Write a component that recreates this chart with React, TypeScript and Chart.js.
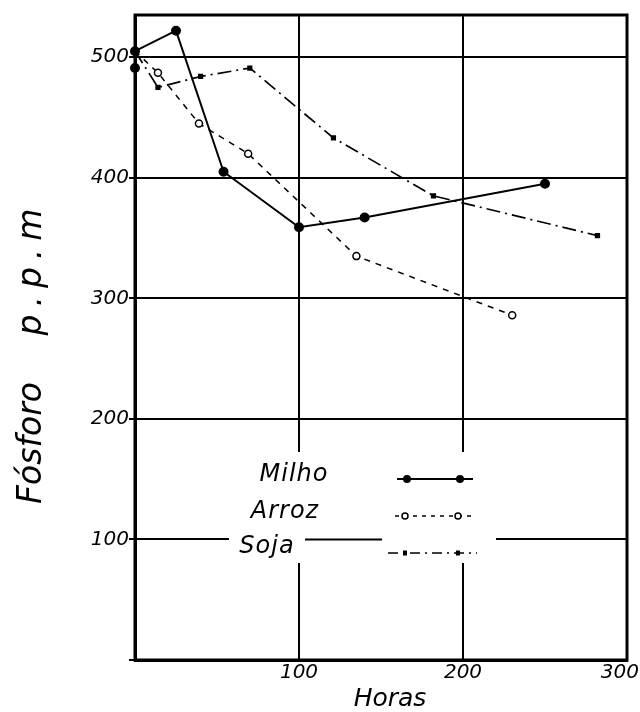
import React, { useEffect, useRef } from "react";
import { Chart, registerables } from "chart.js";

Chart.register(...registerables);

const seriesNames = ["Milho", "Arroz", "Soja"];
const milhoX = [0, 0, 25, 54, 100, 140, 250];
const milhoY = [491, 505, 522, 405, 359, 367, 395];
const arrozX = [0, 14, 39, 69, 135, 230];
const arrozY = [505, 487, 445, 420, 335, 286];
const sojaX = [0, 14, 40, 70, 121, 182, 282];
const sojaY = [505, 475, 484, 491, 433, 385, 352];
const xTicks = [0, 100, 200, 300];
const yTicks = [0, 100, 200, 300, 400, 500];
const xTitle = "Horas";
const yTitleWord = "Fósforo";
const yTitleUnit = "p.p.m";

const FAMILY = "'DejaVu Sans', sans-serif";

const toPoints = (xs: number[], ys: number[]) => xs.map((x, i) => ({ x, y: ys[i] }));

const decorPlugin = {
  id: "decor",
  afterDraw(chart: any) {
    const ctx: CanvasRenderingContext2D = chart.ctx;
    const { left, right, top, bottom } = chart.chartArea;
    const xs = chart.scales.x;
    const ys = chart.scales.y;
    ctx.save();
    // frame
    ctx.strokeStyle = "#000";
    ctx.lineWidth = 3;
    ctx.strokeRect(left, top, right - left, bottom - top);

    // legend area
    ctx.fillStyle = "#fff";
    ctx.fillRect(229, 452, 267, 111);
    const y100 = ys.getPixelForValue(100);
    ctx.lineWidth = 2;
    ctx.beginPath();
    ctx.moveTo(305, y100);
    ctx.lineTo(382, y100);
    ctx.stroke();

    ctx.fillStyle = "#000";
    ctx.font = `italic 24px ${FAMILY}`;
    ctx.textAlign = "center";
    ctx.textBaseline = "middle";
    (ctx as any).letterSpacing = "1px";
    ctx.fillText(seriesNames[0], 294, 475);
    ctx.fillText(seriesNames[1], 285, 512);
    ctx.fillText(seriesNames[2], 267, 547);
    (ctx as any).letterSpacing = "0px";

    // Milho sample
    ctx.lineWidth = 2;
    ctx.setLineDash([]);
    ctx.beginPath();
    ctx.moveTo(397, 479);
    ctx.lineTo(473, 479);
    ctx.stroke();
    [407, 460].forEach((px) => {
      ctx.beginPath();
      ctx.arc(px, 479, 4, 0, Math.PI * 2);
      ctx.fill();
    });
    // Arroz sample
    ctx.lineWidth = 1.5;
    ctx.setLineDash([4, 5]);
    ctx.beginPath();
    ctx.moveTo(395, 516);
    ctx.lineTo(475, 516);
    ctx.stroke();
    ctx.setLineDash([]);
    [405, 458].forEach((px) => {
      ctx.beginPath();
      ctx.arc(px, 516, 3, 0, Math.PI * 2);
      ctx.fillStyle = "#fff";
      ctx.fill();
      ctx.stroke();
    });
    ctx.fillStyle = "#000";
    // Soja sample
    ctx.setLineDash([10, 5, 2, 5]);
    ctx.beginPath();
    ctx.moveTo(388, 553);
    ctx.lineTo(477, 553);
    ctx.stroke();
    ctx.setLineDash([]);
    [405, 458].forEach((px) => {
      ctx.fillRect(px - 2, 553 - 2.5, 4, 5);
    });

    // x tick labels
    ctx.font = `italic 20px ${FAMILY}`;
    ctx.textAlign = "center";
    ctx.textBaseline = "middle";
    xTicks.forEach((v) => {
      if (v === 0) return;
      const w = ctx.measureText(String(v)).width;
      let px = xs.getPixelForValue(v);
      px = Math.min(px, 639 - w / 2);
      ctx.fillText(String(v), px, 673);
    });

    // x title
    ctx.font = `italic 25px ${FAMILY}`;
    ctx.fillText(xTitle, 390, 699);

    // y title
    ctx.translate(41, 0);
    ctx.rotate(-Math.PI / 2);
    ctx.textBaseline = "alphabetic";
    ctx.font = `italic 33px ${FAMILY}`;
    ctx.fillText(yTitleWord, -443, 0);
    (ctx as any).letterSpacing = "8px";
    ctx.fillText(yTitleUnit, -268, 0);
    (ctx as any).letterSpacing = "0px";
    ctx.restore();
  },
};

export default function App() {
  const ref = useRef<HTMLCanvasElement | null>(null);
  useEffect(() => {
    if (!ref.current) return;
    const chart = new Chart(ref.current, {
      type: "line",
      data: {
        datasets: [
          {
            label: seriesNames[0],
            data: toPoints(milhoX, milhoY),
            borderColor: "#000",
            borderWidth: 2,
            pointRadius: 4,
            pointBackgroundColor: "#000",
            pointBorderColor: "#000",
            clip: false,
          } as any,
          {
            label: seriesNames[1],
            data: toPoints(arrozX, arrozY),
            borderColor: "#000",
            borderWidth: 1.5,
            borderDash: [6, 6],
            pointRadius: 3.5,
            pointBackgroundColor: "#fff",
            pointBorderColor: "#000",
            pointBorderWidth: 1.5,
            clip: false,
          },
          {
            label: seriesNames[2],
            data: toPoints(sojaX, sojaY),
            borderColor: "#000",
            borderWidth: 1.7,
            borderDash: [14, 5, 2, 5],
            pointStyle: "rect",
            pointRadius: 2.5,
            pointBackgroundColor: "#000",
            pointBorderColor: "#000",
            clip: false,
          },
        ],
      },
      options: {
        animation: false,
        responsive: false,
        maintainAspectRatio: false,
        layout: { padding: { top: 15, right: 13, left: 0, bottom: 0 } },
        plugins: { legend: { display: false }, tooltip: { enabled: false } },
        scales: {
          x: {
            type: "linear",
            min: 0,
            max: 300,
            afterBuildTicks: (s: any) => {
              s.ticks = xTicks.map((v) => ({ value: v }));
            },
            afterFit: (s: any) => {
              s.height = 52;
              s.paddingLeft = 0;
              s.paddingRight = 0;
            },
            grid: { color: "#000", lineWidth: 2, drawTicks: false },
            border: { color: "#000", width: 3 },
            ticks: { display: false },
          },
          y: {
            type: "linear",
            min: 0,
            max: 535,
            afterBuildTicks: (s: any) => {
              s.ticks = yTicks.map((v) => ({ value: v }));
            },
            afterFit: (s: any) => {
              s.width = 135;
            },
            grid: { color: "#000", lineWidth: 2, tickLength: 6 },
            border: { color: "#000", width: 3 },
            ticks: {
              color: "#000",
              padding: 0,
              font: { family: FAMILY, size: 20, style: "italic" },
              callback: (v: any) => (v === 0 ? "" : String(v)),
            },
          },
        },
      },
      plugins: [decorPlugin],
    });
    return () => chart.destroy();
  }, []);
  return (
    <div style={{ position: "absolute", left: 0, top: 0, width: 640, height: 712, background: "#fff" }}>
      <canvas ref={ref} width={640} height={712} style={{ width: 640, height: 712, display: "block" }} />
    </div>
  );
}
